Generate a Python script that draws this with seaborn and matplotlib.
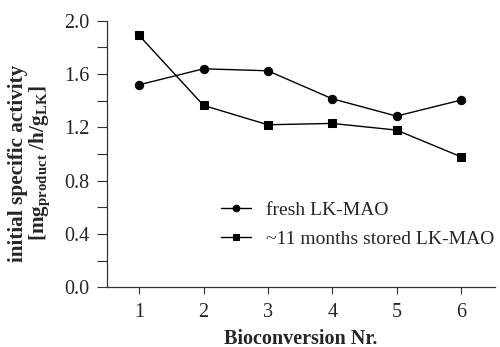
import matplotlib
matplotlib.use("Agg")
import matplotlib.pyplot as plt
import seaborn as sns
import pandas as pd
from matplotlib.ticker import MultipleLocator

runs = [1, 2, 3, 4, 5, 6]
fresh = [1.52, 1.64, 1.625, 1.415, 1.285, 1.405]
stored = [1.89, 1.365, 1.22, 1.23, 1.18, 0.98]
labels = ["fresh LK-MAO", "~11 months stored LK-MAO"]

sns.set_style("ticks")
plt.rcParams["font.family"] = ["Liberation Serif", "DejaVu Serif"]
plt.rcParams["mathtext.fontset"] = "custom"
plt.rcParams["mathtext.rm"] = "Liberation Serif"
plt.rcParams["mathtext.bf"] = "Liberation Serif:bold"

fig = plt.figure(figsize=(5, 3.47), dpi=100)
ax = fig.add_axes([0.214, 0.172, 0.776, 0.768])

df1 = pd.DataFrame({"x": runs, "y": fresh})
df2 = pd.DataFrame({"x": runs, "y": stored})
sns.lineplot(data=df1, x="x", y="y", ax=ax, color="black", marker="o",
             markersize=6, linewidth=1, markeredgecolor="black", label=labels[0])
sns.lineplot(data=df2, x="x", y="y", ax=ax, color="black", marker="s",
             markersize=6, linewidth=1, markeredgecolor="black", label=labels[1])

ax.set_xlim(0.5, 6.53)
ax.set_ylim(0, 2.0)
ax.set_xticks(runs)
ax.yaxis.set_major_locator(MultipleLocator(0.4))
ax.yaxis.set_minor_locator(MultipleLocator(0.2))
ax.yaxis.set_major_formatter(matplotlib.ticker.FormatStrFormatter("%.1f"))
ax.tick_params(axis="both", which="major", labelsize=14.5, width=0.8,
               color="#333333", direction="out")
ax.tick_params(axis="y", which="both", length=7.5, pad=5, width=0.8, color="#333333")
ax.tick_params(axis="x", which="major", length=5, pad=6)
for s in ["left", "bottom"]:
    ax.spines[s].set_linewidth(0.9)
    ax.spines[s].set_color("#333333")
sns.despine(ax=ax)

ax.set_xlabel("Bioconversion Nr.", fontsize=14.5, fontweight="bold", labelpad=5)
ax.set_ylabel("initial specific activity\n[mg$_{\\mathbf{product}}$ /h/g$_{\\mathbf{LK}}$]",
              fontsize=15.3, fontweight="bold", linespacing=1.0)
ax.yaxis.set_label_coords(-0.14, 0.466)

leg = ax.legend(loc="center left", bbox_to_anchor=(0.275, 0.235), frameon=False,
                fontsize=14, handlelength=1.5, handletextpad=0.8, labelspacing=0.58,
                borderaxespad=0, markerscale=0.8)

fig.savefig("out.png", dpi=100)
